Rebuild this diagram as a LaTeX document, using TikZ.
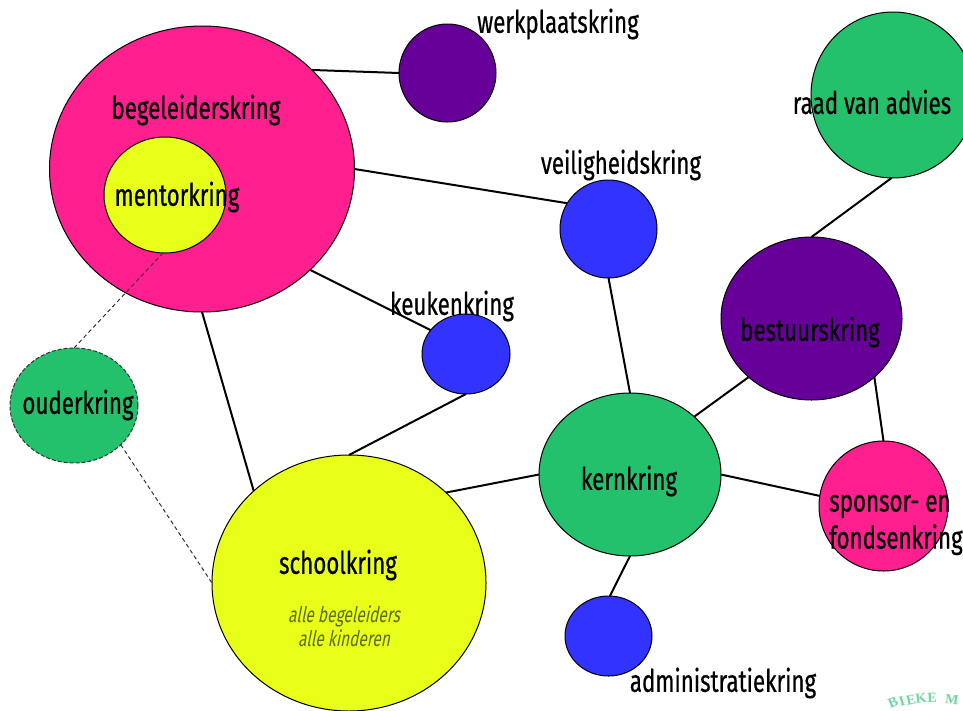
\documentclass[tikz,border=0pt]{standalone}
\usepackage{fontspec}
\usetikzlibrary{shapes.geometric}
\setmainfont[FakeStretch=0.72,FakeBold=0.5]{Fira Sans}
\newfontfamily\subfont[FakeStretch=0.72,FakeSlant=0.2]{Fira Sans}
\newfontfamily\stampfont{Liberation Serif}
\definecolor{kpink}{HTML}{FF1F8F}
\definecolor{kyellow}{HTML}{E8FF1A}
\definecolor{kgreen}{HTML}{23C16B}
\definecolor{kpurple}{HTML}{660099}
\definecolor{kblue}{HTML}{3333FF}
\definecolor{kstamp}{HTML}{6FD6A0}
\definecolor{ksub}{HTML}{5F6B10}
\begin{document}
\begin{tikzpicture}[x=1pt,y=-1pt,
  circ/.style={ellipse,draw=black,line width=1pt,inner sep=0pt,outer sep=0pt},
  link/.style={draw=black,line width=2pt},
  dlink/.style={draw=black!80,line width=1pt,dash pattern=on 4pt off 3pt},
  lab/.style={font=\fontsize{31}{31}\selectfont,text=black,inner sep=0pt,align=center},
  sub/.style={font=\subfont\fontsize{21.5}{24}\selectfont,text=ksub,inner sep=0pt,align=center},
  stamp/.style={font=\stampfont\fontsize{14}{14}\selectfont\bfseries,text=kstamp,inner sep=0pt}]
\useasboundingbox (0,0) rectangle (963,710);
\clip (0,0) rectangle (963,710);
\fill[white] (0,0) rectangle (963,710);
% circles
\node[circ,fill=kpink,minimum width=305pt,minimum height=286pt] (beg) at (202,169) {};
\node[circ,fill=kpurple,minimum width=97pt,minimum height=98pt] (werk) at (447.5,73) {};
\node[circ,fill=kblue,minimum width=97pt,minimum height=98pt] (veil) at (608.5,229) {};
\node[circ,fill=kblue,minimum width=88pt,minimum height=80pt] (keuk) at (466,354) {};
\node[circ,fill=kgreen,minimum width=164pt,minimum height=166pt] (raad) at (893,95) {};
\node[circ,fill=kpurple,minimum width=181pt,minimum height=163pt] (best) at (811.5,318.5) {};
\node[circ,fill=kgreen,minimum width=182pt,minimum height=163pt] (kern) at (630,474.5) {};
\node[circ,fill=kpink,minimum width=129pt,minimum height=130pt] (spon) at (883.5,506) {};
\node[circ,fill=kblue,minimum width=87pt,minimum height=80pt] (admi) at (608.5,636) {};
\node[circ,fill=kyellow,minimum width=274pt,minimum height=256pt] (scho) at (349,583) {};
\node[circ,fill=kgreen,draw=black!80,dash pattern=on 4pt off 2pt,minimum width=128pt,minimum height=115pt] (oude) at (74,405.5) {};
% connectors
\draw[link] (beg.42.2) -- (werk.180);
\draw[link] (beg.0.4) -- (veil.148.8);
\draw[link] (beg.-43.4) -- (keuk.146.6);
\draw[link] (beg.-90) -- (scho.136.8);
\draw[link] (keuk.-90) -- (scho.90);
\draw[link] (scho.43.5) -- (kern.180);
\draw[link] (veil.-90) -- (kern.90);
\draw[link] (kern.42.6) -- (best.223);
\draw[link] (best.90) -- (raad.-91);
\draw[link] (best.-43) -- (spon.90);
\draw[link] (kern.0) -- (spon.171);
\draw[link] (kern.-90) -- (admi.88);
\draw[dlink] (oude.-40.8) -- (scho.180);
% mentor circle and its dashed connector
\node[circ,fill=kyellow,minimum width=122pt,minimum height=116pt] (ment) at (165,195) {};
\draw[dlink] (ment.-92) -- (oude.90);
% labels
\node[lab] (lbeg) at (196,110) {begeleiderskring};
\node[lab] (lment) at (177,197) {mentorkring};
\node[lab] (lwerk) at (558,24) {werkplaatskring};
\node[lab] (lveil) at (621,165) {veiligheidskring};
\node[lab] (lkeuk) at (452,306) {keukenkring};
\node[lab] (lraad) at (872,102) {raad van advies};
\node[lab] (lbest) at (810,332) {bestuurskring};
\node[lab] (lkern) at (629,481) {kernkring};
\node[lab,align=left,font=\fontsize{31}{37}\selectfont] (lspon) at (896,525) {sponsor- en\\fondsenkring};
\node[lab] (ladmi) at (723,683) {administratiekring};
\node[lab] (lscho) at (338,565) {schoolkring};
\node[sub] (lsub) at (344,626) {alle begeleiders\\alle kinderen};
\node[lab] (loude) at (78,405) {ouderkring};
% stamp fragment
\node[stamp,rotate=22] (s1) at (893,703) {B};
\node[stamp,rotate=16] (s2) at (902,701) {I};
\node[stamp,rotate=12] (s3) at (911,700) {E};
\node[stamp,rotate=7] (s4) at (921,698.5) {K};
\node[stamp,rotate=2] (s5) at (932,698) {E};
\node[stamp,rotate=-6] (s6) at (952,700) {M};
\end{tikzpicture}
\end{document}
